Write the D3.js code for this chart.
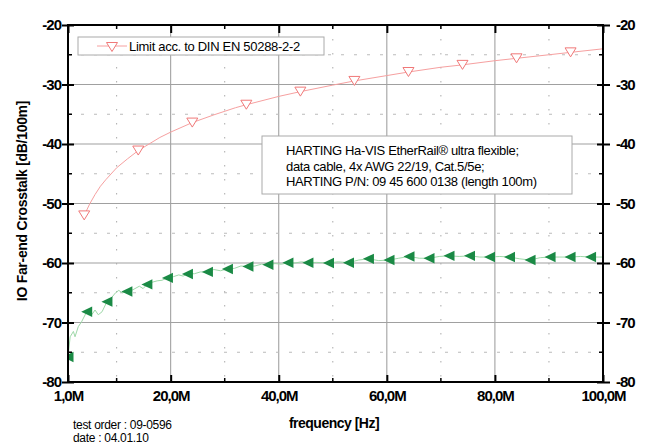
<!DOCTYPE html>
<html>
<head>
<meta charset="utf-8">
<script src="https://cdn.jsdelivr.net/npm/d3@7"></script>
<style>
  body { margin: 0; background: #fff; }
  text { font-family: "Liberation Sans", Arial, sans-serif; }
</style>
</head>
<body>
<svg id="chart"></svg>
<script>
// limit acc. to DIN EN 50288-2-2
var limitF  = [4, 5, 6, 7, 8, 10, 12, 14, 16, 18, 20, 24, 28, 32, 34, 40, 44, 50, 54, 60, 64, 70, 74, 80, 84, 90, 94, 100];
var limitDb = [-52.0, -50.1, -48.5, -47.1, -46.0, -44.0, -42.5, -41.1, -40.0, -38.9, -38.0, -36.4, -35.1, -33.9, -33.4, -32.0, -31.2, -30.1, -29.4, -28.5, -27.9, -27.1, -26.7, -26.0, -25.6, -25.0, -24.6, -24.0];
var limitMarkF = [4, 14, 24, 34, 44, 54, 64, 74, 84, 94];

// measured IO FEXT
var measF  = [1.0, 1.4, 2.0, 2.3, 2.9, 3.5, 4.46, 5.4, 6.0, 6.6, 7.3, 8.2, 9.0, 9.8, 10.4, 11.0, 11.9, 13.0, 14.2, 14.9, 15.6, 16.7, 17.5, 18.4, 19.4, 20.5, 21.5, 22.3, 23.1, 24.4, 25.5, 26.8, 28.0, 29.2, 30.5, 31.8, 33.0, 34.3, 35.6, 36.8, 38.0, 39.3, 40.5, 41.7, 43.0, 44.2, 45.4, 47.0, 49.2, 51.0, 52.9, 54.8, 56.6, 58.5, 60.4, 62.2, 64.1, 66.0, 67.8, 69.7, 71.5, 73.4, 75.3, 77.2, 79.0, 80.9, 82.7, 84.6, 86.5, 88.4, 90.2, 92.0, 93.9, 95.8, 97.7, 100.0];
var measDb = [-75.8, -72.4, -71.5, -72.4, -70.7, -69.9, -68.2, -68.7, -67.9, -68.7, -68.2, -66.5, -65.9, -65.0, -64.6, -65.0, -64.8, -64.5, -63.9, -64.3, -63.6, -63.2, -63.0, -62.9, -62.5, -62.3, -62.0, -62.2, -61.85, -61.8, -61.5, -61.5, -61.1, -61.3, -61.0, -60.9, -60.5, -60.6, -60.5, -60.2, -60.3, -60.1, -60.2, -59.95, -60.0, -59.8, -59.95, -59.9, -60.0, -59.8, -59.95, -59.5, -59.3, -59.6, -59.5, -59.2, -58.9, -59.2, -59.2, -58.9, -58.8, -58.9, -58.8, -59.0, -59.0, -58.9, -59.0, -59.3, -59.5, -59.1, -59.0, -59.0, -59.0, -58.9, -59.0, -59.0];
var measMarkF = [1.0, 4.46, 8.2, 11.9, 15.6, 19.4, 23.1, 26.8, 30.5, 34.3, 38.0, 41.7, 45.4, 49.2, 52.9, 56.6, 60.4, 64.1, 67.8, 71.5, 75.3, 79.0, 82.7, 86.5, 90.2, 93.9, 97.7];

var xMajor = [1, 20, 40, 60, 80, 100];
var xMinor = [10, 30, 50, 70, 90];
var yMajor = [-20, -30, -40, -50, -60, -70, -80];
var yMinor = [-25, -35, -45, -55, -65, -75];

var legendText = "Limit acc. to DIN EN 50288-2-2";
var noteLines = ["HARTING Ha-VIS EtherRail\u00ae ultra flexible;",
                 "data cable, 4x AWG 22/19, Cat.5/5e;",
                 "HARTING P/N: 09 45 600 0138 (length 100m)"];

var W = 648, H = 446;
var L = 68, R = 603, T = 25, B = 382;

var svg = d3.select("#chart").attr("width", W).attr("height", H);

var x = d3.scaleLinear().domain([1, 100]).range([L, R]);
var y = d3.scaleLinear().domain([-80, -20]).range([B, T]);

svg.append("defs").append("clipPath").attr("id", "plotclip")
  .append("rect").attr("x", L).attr("y", T).attr("width", R - L).attr("height", B - T);

// grid
var grid = svg.append("g");
grid.selectAll(".gmx").data(xMajor.slice(1, -1)).enter().append("line")
  .attr("x1", d => x(d)).attr("x2", d => x(d)).attr("y1", T).attr("y2", B)
  .attr("stroke", "#999").attr("stroke-width", 1);
grid.selectAll(".gmy").data(yMajor.slice(1, -1)).enter().append("line")
  .attr("x1", L).attr("x2", R).attr("y1", d => y(d)).attr("y2", d => y(d))
  .attr("stroke", "#a0a0a0").attr("stroke-width", 1.2);
grid.selectAll(".gnx").data(xMinor).enter().append("line")
  .attr("x1", d => x(d)).attr("x2", d => x(d)).attr("y1", T).attr("y2", B)
  .attr("stroke", "#aaa").attr("stroke-width", 1).attr("stroke-dasharray", "1.5,12.5");
grid.selectAll(".gny").data(yMinor).enter().append("line")
  .attr("x1", L).attr("x2", R).attr("y1", d => y(d)).attr("y2", d => y(d))
  .attr("stroke", "#bbb").attr("stroke-width", 1).attr("stroke-dasharray", "3,10");

var line = d3.line().x(d => x(d[0])).y(d => y(d[1]));

// limit curve
svg.append("path").datum(d3.zip(limitF, limitDb))
  .attr("d", line).attr("fill", "none").attr("stroke", "#f6a0a0").attr("stroke-width", 1);
var triDown = "M-5.5,-4.5L5.5,-4.5L0,4.5Z";
svg.selectAll(".lm").data(limitMarkF).enter().append("path")
  .attr("d", triDown)
  .attr("transform", d => `translate(${x(d)},${y(limitDb[limitF.indexOf(d)])})`)
  .attr("fill", "#fff").attr("stroke", "#f07878").attr("stroke-width", 1);

// measured curve
var meas = svg.append("g").attr("clip-path", "url(#plotclip)");
meas.append("path").datum(d3.zip(measF, measDb))
  .attr("d", line).attr("fill", "none").attr("stroke", "#9ed8a8").attr("stroke-width", 1);
var triLeft = "M-5.5,0L5.5,-5.2L5.5,5.2Z";
meas.selectAll(".mm").data(measMarkF).enter().append("path")
  .attr("d", triLeft)
  .attr("transform", d => `translate(${x(d)},${y(measDb[measF.indexOf(d)])})`)
  .attr("fill", "#1a8a45");

// legend
var lg = svg.append("g");
lg.append("rect").attr("x", 78).attr("y", 37).attr("width", 246).attr("height", 18)
  .attr("fill", "#fff").attr("stroke", "#aaa");
lg.append("line").attr("x1", 97).attr("x2", 127).attr("y1", 46).attr("y2", 46)
  .attr("stroke", "#f6a0a0");
lg.append("path").attr("d", triDown).attr("transform", "translate(112,47)")
  .attr("fill", "#fff").attr("stroke", "#f07878");
lg.append("text").attr("x", 129).attr("y", 51).attr("font-size", 13)
  .attr("letter-spacing", -0.3).text(legendText);

// note box
var nb = svg.append("g");
nb.append("rect").attr("x", 262).attr("y", 136).attr("width", 310).attr("height", 58)
  .attr("fill", "#fff").attr("stroke", "#aaa");
nb.selectAll("text").data(noteLines).enter().append("text")
  .attr("x", 286).attr("y", (d, i) => 155 + i * 15.5)
  .attr("font-size", 13).attr("letter-spacing", -0.35).text(d => d);

// axes
var fmtY = d => String(d);
var fmtX = d => d3.format(".1f")(d).replace(".", ",") + "M";

function styleAxis(g) {
  g.select(".domain").remove();
  g.selectAll(".tick line").attr("stroke", "#000").attr("stroke-width", 2);
  g.selectAll(".tick text").attr("font-size", 15).attr("font-weight", "bold")
    .attr("letter-spacing", -1).attr("fill", "#000");
}

var gl = svg.append("g").attr("transform", `translate(${L},0)`)
  .call(d3.axisLeft(y).tickValues(yMajor).tickSize(6).tickPadding(1).tickFormat(fmtY));
styleAxis(gl);
gl.selectAll(".tick line").attr("x1", 6);
gl.selectAll(".tick text").attr("dy", "0.3em");

var gr = svg.append("g").attr("transform", `translate(${R},0)`)
  .call(d3.axisRight(y).tickValues(yMajor).tickSize(7).tickPadding(6).tickFormat(fmtY));
styleAxis(gr);
gr.selectAll(".tick line").attr("x1", -6);
gr.selectAll(".tick text").attr("dy", "0.3em");

var gb = svg.append("g").attr("transform", `translate(0,${B})`)
  .call(d3.axisBottom(x).tickValues(xMajor).tickSize(-7).tickPadding(8).tickFormat(fmtX));
styleAxis(gb);
gb.selectAll(".tick text").attr("dy", "0.71em");

var gt = svg.append("g").attr("transform", `translate(0,${T})`)
  .call(d3.axisTop(x).tickValues(xMajor).tickSize(-8).tickFormat(""));
styleAxis(gt);

// minor ticks
var mt = svg.append("g").attr("stroke", "#000").attr("stroke-width", 1.5);
mt.selectAll(".mb").data(xMinor).enter().append("line")
  .attr("x1", d => x(d)).attr("x2", d => x(d)).attr("y1", B).attr("y2", B - 4);
mt.selectAll(".mt").data(xMinor).enter().append("line")
  .attr("x1", d => x(d)).attr("x2", d => x(d)).attr("y1", T).attr("y2", T + 4);
mt.selectAll(".ml").data(yMinor).enter().append("line")
  .attr("x1", L).attr("x2", L + 4).attr("y1", d => y(d)).attr("y2", d => y(d));
mt.selectAll(".mr").data(yMinor).enter().append("line")
  .attr("x1", R).attr("x2", R - 4).attr("y1", d => y(d)).attr("y2", d => y(d));

// frame
svg.append("rect").attr("x", L).attr("y", T).attr("width", R - L).attr("height", B - T)
  .attr("fill", "none").attr("stroke", "#000").attr("stroke-width", 2);

// titles
svg.append("text").attr("transform", "translate(27,201) rotate(-90)")
  .attr("text-anchor", "middle").attr("font-size", 14).attr("font-weight", "bold")
  .attr("letter-spacing", -0.3).text("IO Far-end Crosstalk [dB/100m]");
svg.append("text").attr("x", 334).attr("y", 428).attr("text-anchor", "middle")
  .attr("font-size", 14).attr("font-weight", "bold").attr("letter-spacing", -0.5)
  .text("frequency [Hz]");

svg.append("text").attr("x", 73).attr("y", 429).attr("font-size", 12)
  .attr("letter-spacing", -0.3).text("test order : 09-0596");
svg.append("text").attr("x", 73).attr("y", 442).attr("font-size", 12)
  .attr("letter-spacing", -0.3).text("date : 04.01.10");
</script>
</body>
</html>
